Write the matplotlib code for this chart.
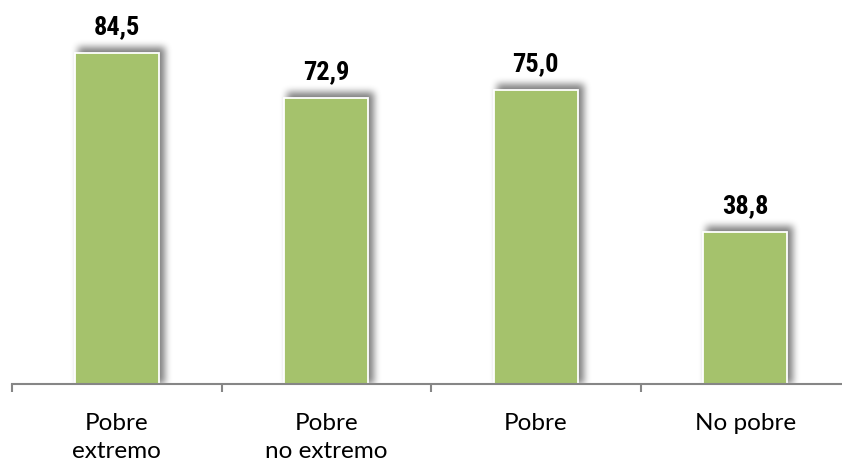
import matplotlib
matplotlib.use("Agg")
from matplotlib import pyplot as plt
from matplotlib import font_manager
import numpy as np

categories = ["Pobre\nextremo", "Pobre\nno extremo", "Pobre", "No pobre"]
values = [84.5, 72.9, 75.0, 38.8]
value_labels = ["84,5", "72,9", "75,0", "38,8"]

BAR_COLOR = "#A5C26C"
AXIS_COLOR = "#868686"


def pick_font(names):
    installed = {f.name for f in font_manager.fontManager.ttflist}
    for n in names:
        if n in installed:
            return n
    return "DejaVu Sans"


def box_blur(a, k, axis):
    # simple running mean, same size output
    pad = k // 2
    a = np.pad(a, [(pad, pad) if i == axis else (0, 0) for i in range(2)])
    c = np.cumsum(a, axis=axis)
    c = np.insert(c, 0, 0, axis=axis)
    n = a.shape[axis] - k + 1
    hi = np.take(c, np.arange(k, k + n), axis=axis)
    lo = np.take(c, np.arange(0, n), axis=axis)
    return (hi - lo) / k


value_font = pick_font(["Liberation Sans Narrow", "Roboto Condensed",
                        "Liberation Sans"])
cat_font = pick_font(["Lato", "Open Sans", "DejaVu Sans"])

W, H = 842, 464
fig = plt.figure(figsize=(W / 100, H / 100), dpi=100)
# axes in pixel terms: left 12, baseline at y=385 from top, width ~838
ax = fig.add_axes([12 / W, (H - 385) / H, 838 / W, 385 / H])
ax.patch.set_visible(False)

x = np.arange(len(categories))
bars = ax.bar(x, values, width=0.40, color=BAR_COLOR,
              edgecolor="white", linewidth=1.3, zorder=3)

ax.set_xlim(-0.5, len(categories) - 0.5)
ax.set_ylim(0, 98.3)

# soft drop shadow behind the bars (up and to the right)
mask = np.zeros((H, W))
base_row = None
for b in bars:
    (x0, y0), (x1, y1) = ax.transData.transform(
        [(b.get_x(), 0), (b.get_x() + b.get_width(), b.get_height())])
    base_row = int(round(y0))
    mask[base_row:int(round(y1)) + 6, int(round(x0)) + 3:int(round(x1)) + 6] = 1
for _ in range(3):
    mask = box_blur(mask, 7, 0)
    mask = box_blur(mask, 7, 1)
mask[:base_row, :] = 0
rgba = np.zeros((H, W, 4))
rgba[..., 3] = mask * 0.5
fig.figimage(rgba, 0, 0, origin="lower", zorder=-1)

for xi, v, lab in zip(x, values, value_labels):
    ax.annotate(lab, (xi, v), xytext=(0, 14.5), textcoords="offset points",
                ha="center", va="baseline", fontsize=19, fontweight="bold",
                family=value_font, color="black")

for s in ["top", "right", "left"]:
    ax.spines[s].set_visible(False)
ax.spines["bottom"].set_color(AXIS_COLOR)
ax.spines["bottom"].set_linewidth(1.5)
ax.spines["bottom"].set_zorder(4)

ax.set_yticks([])
ax.set_xticks(np.arange(len(categories) + 1) - 0.5, minor=False)
ax.set_xticklabels([])
ax.tick_params(axis="x", which="major", length=6, width=1.5,
               color=AXIS_COLOR)
ax.set_xticks(x, minor=True)
ax.set_xticklabels(categories, minor=True, fontsize=17.5, family=cat_font,
                   linespacing=1.45)
ax.tick_params(axis="x", which="minor", length=0, pad=20)

fig.savefig("out.png", dpi=100)
